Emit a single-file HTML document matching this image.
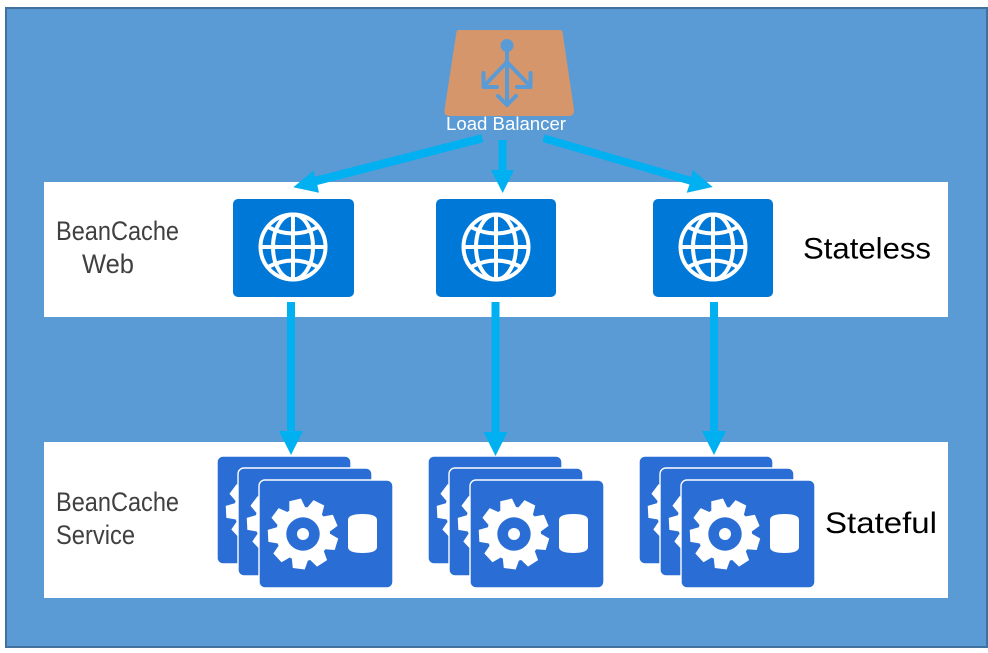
<!DOCTYPE html>
<html>
<head>
<meta charset="utf-8">
<style>
html,body{margin:0;padding:0;background:#fff;width:988px;height:653px;overflow:hidden}
svg{display:block}
text{font-family:"Liberation Sans",sans-serif}
</style>
</head>
<body>
<svg width="988" height="653" viewBox="0 0 988 653" xmlns="http://www.w3.org/2000/svg">
<defs>
<g id="globe" fill="none" stroke="#fff" stroke-width="4">
<circle cx="0" cy="0" r="32.5"/>
<ellipse cx="0" cy="0" rx="20" ry="32.5"/>
<line x1="0" y1="-32.5" x2="0" y2="32.5"/>
<line x1="-32.5" y1="0" x2="32.5" y2="0"/>
<path d="M-25-20Q0-7 25-20"/>
<path d="M-25 20Q0 7 25 20"/>
</g>
<polygon id="tooth" points="-8.500,-24 -6,-35 6,-35 8.500,-24" fill="#fff"/>
<g id="gear">
<circle cx="0" cy="0" r="27" fill="#fff"/>
<use href="#tooth" transform="rotate(-13)"/>
<use href="#tooth" transform="rotate(27)"/>
<use href="#tooth" transform="rotate(67)"/>
<use href="#tooth" transform="rotate(107)"/>
<use href="#tooth" transform="rotate(147)"/>
<use href="#tooth" transform="rotate(187)"/>
<use href="#tooth" transform="rotate(227)"/>
<use href="#tooth" transform="rotate(267)"/>
<use href="#tooth" transform="rotate(307)"/>
<circle cx="0" cy="0" r="16.700" fill="#2a6dd4"/>
<circle cx="0" cy="0" r="6" fill="#fff"/>
</g>
<g id="card">
<rect x="0" y="0" width="134" height="108" rx="6" fill="#2a6dd4" stroke="#fff" stroke-width="1.4"/>
<use href="#gear" x="44" y="54"/>
<path d="M89 40Q89 34 103.500 34Q118 34 118 40V67Q118 73 103.500 73Q89 73 89 67Z" fill="#fff"/>
</g>
<g id="stack">
<use href="#card" x="0" y="0"/>
<use href="#card" x="21" y="12"/>
<use href="#card" x="42" y="24"/>
</g>
</defs>

<rect x="6" y="8" width="981" height="639" fill="#5b9bd5" stroke="#41719c" stroke-width="2"/>

<rect x="44" y="182" width="904" height="135" fill="#fff"/>
<rect x="44" y="442" width="904" height="156" fill="#fff"/>

<!-- Load balancer -->
<path d="M459 30H560Q562 30 562.500 32L574 110Q574.500 116 568 116H450Q443.500 116 444.500 110L456.500 32Q457 30 459 30Z" fill="#d5966c"/>
<g fill="none" stroke="#5b9bd5" stroke-width="4" stroke-linecap="round" stroke-linejoin="round">
<circle cx="507" cy="45.500" r="6.500" fill="#5b9bd5" stroke="none"/>
<line x1="507" y1="48" x2="507" y2="105"/>
<line x1="507" y1="62" x2="484" y2="86"/>
<line x1="507" y1="62" x2="530" y2="86"/>
<path d="M483.500 73V87H497"/>
<path d="M530.500 73V87H517"/>
<path d="M498 96L507 105L516 96"/>
</g>
<text x="446" y="130" font-size="18" fill="#fff" textLength="120" lengthAdjust="spacingAndGlyphs">Load Balancer</text>

<!-- Web cards -->
<rect x="233" y="199" width="121" height="98" rx="5" fill="#0078d7"/>
<rect x="436" y="199" width="120" height="98" rx="5" fill="#0078d7"/>
<rect x="653" y="199" width="120" height="98" rx="5" fill="#0078d7"/>
<use href="#globe" x="293" y="247"/>
<use href="#globe" x="496" y="247"/>
<use href="#globe" x="713" y="247"/>

<!-- Service stacks -->
<use href="#stack" x="217" y="456"/>
<use href="#stack" x="428" y="456"/>
<use href="#stack" x="639" y="456"/>

<!-- Arrows -->
<g fill="#00b0f0">
<polygon points="498.500,140 506.500,140 506.500,170 514,170 502.700,193 491,170 498.500,170"/>
<polygon points="544.500,134.500 542.500,142 689.500,184.500 686.700,192.700 712.700,187 692.700,170 691.500,177"/>
<polygon points="481.300,134.300 483.300,142.300 317.300,185 319,192.700 293.300,187.300 313.300,170.700 315,176.700"/>
<polygon points="287,302 295,302 295,431 303,431 291,455 279,431 287,431"/>
<polygon points="491.500,302 499.500,302 499.500,432 507.500,432 495.500,456 483.500,432 491.500,432"/>
<polygon points="710,302 718,302 718,431 726,431 714,455 702,431 710,431"/>
</g>

<!-- Labels -->
<g font-size="27" fill="#404040">
<text x="56" y="240" textLength="123" lengthAdjust="spacingAndGlyphs">BeanCache</text>
<text x="82" y="273" textLength="52" lengthAdjust="spacingAndGlyphs">Web</text>
<text x="56" y="511" textLength="123" lengthAdjust="spacingAndGlyphs">BeanCache</text>
<text x="56" y="544" textLength="79" lengthAdjust="spacingAndGlyphs">Service</text>
</g>
<g font-size="30" fill="#000">
<text x="803" y="258.500" textLength="128" lengthAdjust="spacingAndGlyphs">Stateless</text>
<text x="825" y="533" textLength="112" lengthAdjust="spacingAndGlyphs">Stateful</text>
</g>
</svg>
</body>
</html>
